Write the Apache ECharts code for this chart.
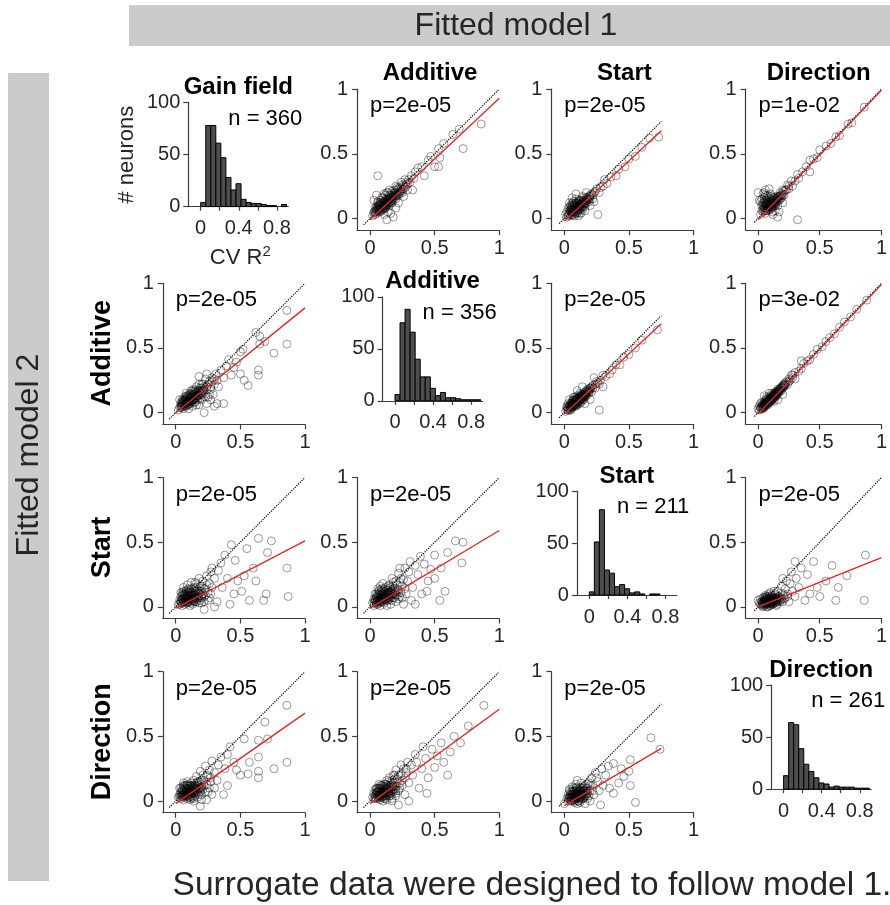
<!DOCTYPE html>
<html><head><meta charset="utf-8">
<script src="https://cdn.jsdelivr.net/npm/echarts@6/dist/echarts.min.js"></script>
<style>html,body{margin:0;padding:0;background:#fff}#c{width:890px;height:905px}</style>
</head><body><div id="c"></div>
<script>
// ---------------- DATA ----------------
const modelNames = ['Gain field', 'Additive', 'Start', 'Direction'];
const nNeurons = [360, 356, 211, 261];
const histBinWidth = 0.053;
const histBinCenters = [0.0265, 0.0795, 0.1325, 0.1855, 0.2385, 0.2915, 0.3445, 0.3975, 0.4505, 0.5035, 0.5565, 0.6095, 0.6625, 0.7155, 0.7685, 0.8215, 0.8745];
const histGain      = [4, 78, 78, 61, 47, 28, 16, 22, 7, 4, 3, 3, 2, 1, 1, 0, 2];
const histAdditive  = [6, 75, 88, 66, 40, 23, 23, 12, 5, 8, 3, 3, 2, 1, 1, 1, 1];
const histStart     = [3, 51, 82, 24, 21, 8, 10, 6, 2, 3, 1, 0, 1, 1, 0, 0, 0];
const histDirection = [13, 64, 62, 39, 24, 17, 11, 6, 5, 2, 3, 2, 2, 2, 1, 1, 1];
const histCounts = [histGain, histAdditive, histStart, histDirection];

const scatterTicks = [0, 0.5, 1];
const histXTicks = [0, 0.2, 0.4, 0.6, 0.8];
const histXLabels = [0, 0.4, 0.8];
const histYTicks = [0, 50, 100];

// p-values: row = fitted model 2, column = model 1 (surrogate data)
const pTexts = [
  [null, 'p=2e-05', 'p=2e-05', 'p=1e-02'],
  ['p=2e-05', null, 'p=2e-05', 'p=3e-02'],
  ['p=2e-05', 'p=2e-05', null, 'p=2e-05'],
  ['p=2e-05', 'p=2e-05', 'p=2e-05', null]
];
const fitIntercept = [
  [null, -0.01, -0.02, -0.01],
  [0.0, null, -0.01, -0.01],
  [-0.01, -0.01, null, 0.0],
  [-0.02, -0.02, -0.035, null]
];
const fitSlope = [
  [null, 0.94, 0.93, 1.0],
  [0.81, null, 0.93, 1.0],
  [0.52, 0.60, null, 0.38],
  [0.70, 0.73, 0.59, null]
];
const lineXMin = [-0.05, -0.05, -0.04, -0.03];
const lineXMax = [1, 1, 0.75, 1];

// scatter points [model1 R2, model2 R2] - spread points
const pts_r1c2 = [[0.06,0.33],[0.86,0.73],[0.72,0.54],[0.69,0.69],[0.64,0.65],[0.57,0.58],[0.53,0.54],[0.54,0.47],[0.5,0.4],[0.53,0.4],[0.45,0.45],[0.47,0.48],[0.42,0.33],[0.37,0.39],[0.4,0.4],[0.35,0.36],[0.33,0.22],[0.3,0.3],[0.32,0.33],[0.28,0.26],[0.27,0.3],[0.25,0.2],[0.25,0.26],[0.23,0.24],[0.22,0.18],[0.21,0.22],[0.2,0.25],[0.2,0.15],[0.19,0.2],[0.18,0.17],[0.17,0.21],[0.17,0.12],[0.16,0.16],[0.15,0.18],[0.15,0.1],[0.14,0.14],[0.13,0.2],[0.13,0.12],[0.13,-0.01],[0.12,0.08],[0.12,0.15],[0.11,0.11],[0.1,0.13],[0.1,0.07],[0.09,0.1],[0.09,0.16],[0.08,0.08],[0.08,0.12],[0.07,0.05],[0.07,0.1],[0.06,0.07],[0.06,0.13],[0.05,0.18],[0.05,0.06],[0.04,0.08],[0.04,0.03],[0.03,0.14],[0.03,0.05],[0.02,0.02],[0.18,0.01],[0.16,0.04],[0.14,0.05],[0.11,0.03],[0.22,0.12],[0.26,0.17],[0.29,0.22],[0.24,0.28],[0.2,0.08],[0.15,0.22],[0.11,0.19]];
const pts_r1c3 = [[0.73,0.63],[0.66,0.62],[0.6,0.55],[0.55,0.48],[0.5,0.46],[0.47,0.4],[0.42,0.38],[0.4,0.33],[0.36,0.32],[0.33,0.27],[0.31,0.3],[0.28,0.24],[0.27,0.2],[0.25,0.23],[0.26,0.03],[0.23,0.2],[0.22,0.15],[0.2,0.18],[0.19,0.13],[0.18,0.16],[0.17,0.2],[0.16,0.12],[0.15,0.14],[0.14,0.09],[0.14,0.17],[0.13,0.12],[0.12,0.07],[0.12,0.14],[0.11,0.1],[0.1,0.05],[0.1,0.12],[0.09,0.08],[0.09,0.15],[0.08,0.1],[0.08,0.04],[0.07,0.07],[0.07,0.13],[0.06,0.05],[0.06,0.1],[0.05,0.08],[0.05,0.02],[0.04,0.06],[0.04,0.12],[0.03,0.03],[0.03,0.08],[0.02,0.01],[0.02,0.05],[0.01,0.03],[0.11,0.02],[0.13,0.04],[0.16,0.06],[0.06,0.16],[0.09,0.19],[0.2,0.1],[0.23,0.13],[0.3,0.25]];
const pts_r1c4 = [[0.86,0.86],[0.76,0.74],[0.73,0.73],[0.66,0.64],[0.63,0.63],[0.59,0.58],[0.55,0.56],[0.5,0.53],[0.48,0.47],[0.45,0.46],[0.42,0.45],[0.42,0.36],[0.39,0.4],[0.36,0.36],[0.33,0.31],[0.32,0.34],[0.32,-0.01],[0.3,0.29],[0.28,0.25],[0.27,0.29],[0.25,0.23],[0.24,0.26],[0.22,0.22],[0.21,0.18],[0.2,0.22],[0.19,0.16],[0.18,0.2],[0.17,0.05],[0.16,0.01],[0.17,0.14],[0.16,0.17],[0.15,0.12],[0.14,0.15],[0.13,0.1],[0.13,0.13],[0.12,0.16],[0.11,0.08],[0.11,0.12],[0.1,0.1],[0.1,0.15],[0.09,0.23],[0.09,0.07],[0.08,0.11],[0.08,0.18],[0.07,0.06],[0.07,0.1],[0.06,0.13],[0.06,0.04],[0.05,0.08],[0.05,0.16],[0.04,0.19],[0.04,0.05],[0.03,0.1],[0.02,0.13],[0.01,0.14],[0.0,0.2],[0.02,0.03],[0.12,0.03],[0.14,0.06],[0.2,0.12]];
const pts_r2c1 = [[0.86,0.79],[0.86,0.53],[0.76,0.46],[0.69,0.55],[0.65,0.59],[0.62,0.62],[0.65,0.53],[0.64,0.33],[0.64,0.29],[0.56,0.21],[0.53,0.25],[0.5,0.3],[0.5,0.47],[0.52,0.49],[0.47,0.39],[0.41,0.41],[0.39,0.36],[0.37,0.27],[0.33,0.2],[0.32,0.07],[0.37,0.07],[0.22,0.0],[0.24,0.07],[0.29,0.14],[0.18,0.28],[0.24,0.3],[0.03,0.1],[0.35,0.33],[0.31,0.3],[0.3,0.22],[0.28,0.27],[0.27,0.18],[0.26,0.24],[0.25,0.12],[0.24,0.2],[0.23,0.26],[0.22,0.16],[0.21,0.22],[0.2,0.1],[0.2,0.19],[0.19,0.14],[0.18,0.22],[0.18,0.06],[0.17,0.17],[0.16,0.12],[0.16,0.2],[0.15,0.15],[0.15,0.08],[0.14,0.18],[0.14,0.11],[0.13,0.14],[0.13,0.05],[0.12,0.12],[0.12,0.17],[0.11,0.09],[0.11,0.14],[0.1,0.11],[0.1,0.06],[0.09,0.13],[0.09,0.08],[0.08,0.1],[0.08,0.15],[0.07,0.05],[0.07,0.12],[0.06,0.08],[0.06,0.03],[0.05,0.1],[0.05,0.06],[0.04,0.04],[0.04,0.08],[0.02,0.02],[0.27,0.1],[0.3,0.05],[0.43,0.29],[0.45,0.35]];
const pts_r2c3 = [[0.72,0.64],[0.6,0.56],[0.55,0.5],[0.5,0.45],[0.46,0.43],[0.43,0.37],[0.4,0.37],[0.37,0.33],[0.35,0.3],[0.32,0.28],[0.3,0.29],[0.28,0.25],[0.27,0.22],[0.25,0.24],[0.24,0.19],[0.22,0.21],[0.21,0.16],[0.2,0.19],[0.19,0.15],[0.18,0.18],[0.17,0.13],[0.16,0.16],[0.15,0.12],[0.15,0.15],[0.14,0.1],[0.13,0.14],[0.13,0.1],[0.12,0.12],[0.12,0.07],[0.11,0.11],[0.1,0.08],[0.1,0.13],[0.09,0.09],[0.09,0.05],[0.08,0.1],[0.08,0.06],[0.07,0.08],[0.07,0.12],[0.06,0.05],[0.06,0.09],[0.05,0.07],[0.05,0.03],[0.04,0.06],[0.04,0.1],[0.03,0.03],[0.03,0.07],[0.02,0.02],[0.02,0.05],[0.01,0.01],[0.16,0.07],[0.2,0.1],[0.23,0.27],[0.14,0.2],[0.1,0.17],[0.3,0.2],[0.27,0.02]];
const pts_r2c4 = [[0.88,0.87],[0.8,0.8],[0.75,0.74],[0.7,0.7],[0.66,0.66],[0.62,0.61],[0.58,0.58],[0.55,0.55],[0.52,0.51],[0.48,0.49],[0.45,0.45],[0.42,0.41],[0.4,0.4],[0.37,0.38],[0.35,0.34],[0.33,0.32],[0.3,0.31],[0.28,0.27],[0.27,0.29],[0.25,0.24],[0.24,0.22],[0.22,0.23],[0.21,0.2],[0.2,0.21],[0.19,0.17],[0.18,0.19],[0.17,0.16],[0.16,0.18],[0.15,0.14],[0.14,0.16],[0.14,0.12],[0.13,0.13],[0.12,0.11],[0.12,0.14],[0.11,0.1],[0.1,0.12],[0.1,0.08],[0.09,0.1],[0.08,0.07],[0.08,0.11],[0.07,0.08],[0.06,0.06],[0.06,0.1],[0.05,0.05],[0.04,0.07],[0.04,0.03],[0.03,0.05],[0.02,0.03],[0.02,0.07],[0.01,0.02],[0.01,0.05],[0.0,0.03],[0.05,0.13],[0.09,0.15],[0.16,0.1],[0.2,0.14],[0.3,0.26],[0.35,0.4]];
const pts_r3c1 = [[0.86,0.3],[0.87,0.08],[0.74,0.51],[0.64,0.53],[0.71,0.42],[0.7,0.1],[0.68,0.05],[0.57,0.05],[0.51,0.12],[0.53,0.24],[0.6,0.3],[0.55,0.45],[0.46,0.36],[0.38,0.4],[0.43,0.48],[0.33,0.28],[0.4,0.22],[0.36,0.15],[0.45,0.1],[0.32,0.04],[0.42,0.02],[0.3,0.22],[0.28,0.3],[0.27,0.1],[0.26,0.18],[0.25,0.05],[0.24,0.24],[0.23,0.14],[0.22,0.08],[0.21,0.2],[0.2,0.12],[0.2,0.03],[0.19,0.16],[0.18,0.07],[0.18,0.22],[0.17,0.11],[0.16,0.04],[0.16,0.15],[0.15,0.09],[0.15,0.19],[0.14,0.05],[0.14,0.12],[0.13,0.02],[0.13,0.08],[0.12,0.14],[0.12,0.05],[0.11,0.1],[0.11,0.01],[0.1,0.06],[0.1,0.13],[0.09,0.03],[0.09,0.09],[0.08,0.05],[0.08,0.12],[0.07,0.02],[0.07,0.07],[0.06,0.04],[0.06,0.1],[0.05,0.06],[0.05,0.01],[0.04,0.03],[0.04,0.08],[0.03,0.05],[0.02,0.02],[0.3,0.0],[0.35,0.34],[0.48,0.2],[0.62,0.2],[0.22,-0.02],[0.27,0.27]];
const pts_r3c2 = [[0.72,0.5],[0.66,0.51],[0.71,0.34],[0.58,0.12],[0.54,0.05],[0.47,0.29],[0.39,0.39],[0.6,0.42],[0.5,0.4],[0.55,0.3],[0.45,0.2],[0.42,0.33],[0.4,0.1],[0.37,0.25],[0.35,0.32],[0.33,0.15],[0.32,0.05],[0.3,0.27],[0.29,0.2],[0.28,0.1],[0.27,0.3],[0.26,0.02],[0.25,0.16],[0.24,0.22],[0.23,0.08],[0.22,0.26],[0.21,0.13],[0.2,0.2],[0.2,0.04],[0.19,0.1],[0.18,0.16],[0.18,0.07],[0.17,0.22],[0.16,0.12],[0.16,0.02],[0.15,0.08],[0.15,0.17],[0.14,0.05],[0.14,0.13],[0.13,0.1],[0.13,0.01],[0.12,0.06],[0.12,0.15],[0.11,0.03],[0.11,0.1],[0.1,0.07],[0.1,0.13],[0.09,0.04],[0.09,0.09],[0.08,0.01],[0.08,0.06],[0.07,0.1],[0.07,0.03],[0.06,0.05],[0.05,0.08],[0.05,0.02],[0.04,0.04],[0.03,0.06],[0.03,0.01],[0.02,0.03],[0.35,0.02],[0.44,0.12],[0.5,0.22],[0.31,0.35],[0.23,0.3]];
const pts_r3c4 = [[0.87,0.4],[0.86,0.05],[0.72,0.24],[0.63,0.05],[0.5,0.08],[0.6,0.32],[0.55,0.2],[0.45,0.35],[0.48,0.15],[0.42,0.1],[0.4,0.25],[0.38,0.05],[0.35,0.3],[0.33,0.15],[0.31,0.22],[0.3,0.08],[0.28,0.12],[0.27,0.27],[0.26,0.18],[0.25,0.04],[0.24,0.1],[0.23,0.2],[0.22,0.14],[0.21,0.06],[0.2,0.1],[0.19,0.16],[0.18,0.04],[0.17,0.08],[0.16,0.12],[0.15,0.02],[0.15,0.06],[0.14,0.1],[0.13,0.04],[0.13,0.07],[0.12,0.02],[0.12,0.05],[0.11,0.08],[0.11,0.03],[0.1,0.05],[0.1,0.01],[0.09,0.03],[0.09,0.07],[0.08,0.04],[0.08,0.0],[0.07,0.06],[0.07,0.02],[0.06,0.04],[0.06,0.08],[0.05,0.02],[0.05,0.05],[0.04,0.03],[0.04,0.07],[0.03,0.01],[0.03,0.04],[0.02,0.02],[0.01,0.03],[0.0,0.05],[0.3,0.35],[0.2,0.22],[0.65,0.15]];
const pts_r4c1 = [[0.86,0.74],[0.86,0.3],[0.76,0.25],[0.69,0.61],[0.64,0.47],[0.71,0.48],[0.64,0.34],[0.64,0.23],[0.64,0.18],[0.56,0.21],[0.53,0.48],[0.5,0.2],[0.57,0.3],[0.47,0.24],[0.42,0.42],[0.4,0.36],[0.37,0.05],[0.32,0.16],[0.19,-0.04],[0.24,0.01],[0.45,0.3],[0.38,0.25],[0.35,0.34],[0.33,0.28],[0.3,0.1],[0.3,0.22],[0.28,0.31],[0.27,0.15],[0.26,0.24],[0.25,0.07],[0.24,0.19],[0.23,0.27],[0.22,0.12],[0.21,0.2],[0.2,0.05],[0.2,0.16],[0.19,0.23],[0.18,0.1],[0.17,0.15],[0.17,0.03],[0.16,0.19],[0.15,0.08],[0.15,0.12],[0.14,0.02],[0.14,0.16],[0.13,0.06],[0.13,0.11],[0.12,0.09],[0.12,0.14],[0.11,0.03],[0.11,0.07],[0.1,0.1],[0.1,0.05],[0.09,0.13],[0.09,0.02],[0.08,0.07],[0.08,0.1],[0.07,0.04],[0.07,0.12],[0.06,0.06],[0.06,0.01],[0.05,0.09],[0.05,0.04],[0.04,0.07],[0.04,0.02],[0.03,0.1],[0.03,0.05],[0.02,0.03],[0.28,0.05],[0.4,0.12]];
const pts_r4c2 = [[0.88,0.74],[0.76,0.58],[0.7,0.45],[0.65,0.5],[0.62,0.38],[0.6,0.2],[0.57,0.3],[0.55,0.45],[0.52,0.35],[0.5,0.26],[0.48,0.4],[0.45,0.18],[0.43,0.33],[0.41,0.42],[0.4,0.25],[0.38,0.1],[0.36,0.3],[0.35,0.36],[0.33,0.2],[0.32,0.28],[0.3,0.14],[0.29,0.3],[0.28,0.22],[0.27,0.05],[0.26,0.25],[0.25,0.16],[0.24,0.28],[0.23,0.1],[0.22,0.2],[0.21,0.14],[0.2,0.24],[0.2,0.06],[0.19,0.17],[0.18,0.11],[0.18,0.2],[0.17,0.02],[0.16,0.14],[0.16,0.08],[0.15,0.18],[0.15,0.04],[0.14,0.12],[0.13,0.07],[0.13,0.16],[0.12,0.1],[0.12,0.02],[0.11,0.13],[0.11,0.06],[0.1,0.09],[0.1,0.03],[0.09,0.12],[0.09,0.06],[0.08,0.08],[0.08,0.01],[0.07,0.1],[0.07,0.04],[0.06,0.07],[0.05,0.05],[0.05,0.1],[0.04,0.02],[0.03,0.06],[0.02,0.03],[0.22,-0.03],[0.3,0.0],[0.44,0.06]];
const pts_r4c3 = [[0.67,0.49],[0.74,0.4],[0.51,0.32],[0.5,0.23],[0.51,0.12],[0.55,-0.01],[0.44,0.25],[0.38,0.29],[0.34,0.27],[0.42,0.14],[0.38,0.06],[0.28,-0.03],[0.25,0.18],[0.1,0.16],[0.04,0.09],[0.32,0.2],[0.3,0.12],[0.29,0.25],[0.27,0.08],[0.26,0.15],[0.24,0.22],[0.23,0.05],[0.22,0.12],[0.21,0.18],[0.2,0.08],[0.19,0.14],[0.18,0.02],[0.18,0.1],[0.17,0.06],[0.16,0.12],[0.15,0.03],[0.15,0.08],[0.14,0.05],[0.14,0.1],[0.13,0.01],[0.13,0.06],[0.12,0.03],[0.12,0.08],[0.11,0.05],[0.11,0.0],[0.1,0.02],[0.1,0.07],[0.09,0.04],[0.09,0.1],[0.08,0.01],[0.08,0.06],[0.07,0.03],[0.07,0.08],[0.06,0.05],[0.06,0.0],[0.05,0.03],[0.05,0.07],[0.04,0.02],[0.03,0.05],[0.03,0.0],[0.02,0.02],[0.0,-0.02],[0.16,-0.02],[0.35,0.1],[0.46,0.19]];

// dense cores of each cloud
const core_r1c2 = [[0.03,0.04],[0.04,0.05],[0.05,0.04],[0.05,0.09],[0.06,0.06],[0.06,0.1],[0.07,0.07],[0.07,0.09],[0.08,0.06],[0.08,0.1],[0.09,0.08],[0.09,0.12],[0.1,0.09],[0.1,0.1],[0.11,0.08],[0.11,0.13],[0.12,0.1],[0.12,0.12],[0.13,0.11],[0.13,0.15],[0.14,0.12],[0.14,0.16],[0.15,0.13],[0.15,0.15],[0.16,0.14],[0.16,0.18],[0.17,0.15],[0.17,0.17],[0.18,0.14],[0.18,0.19],[0.19,0.17],[0.19,0.22],[0.2,0.18],[0.21,0.19],[0.21,0.24],[0.22,0.2],[0.23,0.21],[0.24,0.23],[0.25,0.22],[0.26,0.25],[0.27,0.24],[0.28,0.28],[0.29,0.27],[0.31,0.28],[0.34,0.31],[0.06,0.12],[0.08,0.14],[0.1,0.16],[0.12,0.18],[0.14,0.2]];
const core_r1c3 = [[0.03,0.02],[0.04,0.04],[0.05,0.05],[0.05,0.1],[0.06,0.07],[0.06,0.03],[0.07,0.05],[0.07,0.09],[0.08,0.07],[0.08,0.12],[0.09,0.06],[0.09,0.1],[0.1,0.08],[0.1,0.1],[0.11,0.07],[0.11,0.12],[0.12,0.09],[0.12,0.11],[0.13,0.08],[0.13,0.14],[0.14,0.11],[0.14,0.13],[0.15,0.1],[0.15,0.16],[0.16,0.14],[0.17,0.12],[0.17,0.16],[0.18,0.14],[0.19,0.17],[0.2,0.15],[0.21,0.19],[0.22,0.18],[0.24,0.21],[0.04,0.09],[0.06,0.12],[0.08,0.02],[0.1,0.04],[0.12,0.04],[0.14,0.07],[0.16,0.09]];
const core_r1c4 = [[0.03,0.06],[0.04,0.1],[0.05,0.06],[0.05,0.12],[0.06,0.08],[0.06,0.11],[0.07,0.08],[0.07,0.13],[0.08,0.06],[0.08,0.09],[0.09,0.1],[0.09,0.13],[0.1,0.07],[0.1,0.11],[0.11,0.1],[0.11,0.14],[0.12,0.09],[0.12,0.12],[0.13,0.11],[0.13,0.16],[0.14,0.12],[0.14,0.1],[0.15,0.14],[0.15,0.17],[0.16,0.14],[0.17,0.16],[0.18,0.17],[0.19,0.19],[0.2,0.18],[0.21,0.21],[0.23,0.22],[0.25,0.25],[0.03,0.15],[0.05,0.2],[0.07,0.17],[0.06,0.22],[0.08,0.14],[0.1,0.19],[0.12,0.05],[0.16,0.1]];
const core_r2c1 = [[0.03,0.04],[0.04,0.06],[0.05,0.04],[0.05,0.08],[0.06,0.05],[0.06,0.1],[0.07,0.07],[0.07,0.09],[0.08,0.05],[0.08,0.08],[0.09,0.06],[0.09,0.1],[0.1,0.08],[0.1,0.13],[0.11,0.07],[0.11,0.11],[0.12,0.09],[0.12,0.14],[0.13,0.1],[0.13,0.12],[0.14,0.08],[0.14,0.14],[0.15,0.11],[0.15,0.17],[0.16,0.13],[0.16,0.16],[0.17,0.1],[0.17,0.14],[0.18,0.13],[0.18,0.17],[0.19,0.11],[0.19,0.19],[0.2,0.15],[0.21,0.17],[0.22,0.2],[0.23,0.12],[0.24,0.18],[0.25,0.22],[0.27,0.2],[0.28,0.24],[0.3,0.26],[0.32,0.25],[0.08,0.13],[0.1,0.03],[0.13,0.17],[0.16,0.06],[0.2,0.22],[0.26,0.14]];
const core_r2c3 = [[0.03,0.02],[0.04,0.04],[0.05,0.05],[0.05,0.02],[0.06,0.06],[0.06,0.04],[0.07,0.06],[0.07,0.1],[0.08,0.08],[0.08,0.05],[0.09,0.07],[0.09,0.11],[0.1,0.09],[0.1,0.06],[0.11,0.09],[0.11,0.12],[0.12,0.1],[0.12,0.09],[0.13,0.12],[0.13,0.08],[0.14,0.13],[0.14,0.11],[0.15,0.14],[0.15,0.1],[0.16,0.13],[0.17,0.15],[0.17,0.17],[0.18,0.16],[0.19,0.17],[0.2,0.18],[0.21,0.2],[0.22,0.19],[0.24,0.22],[0.26,0.23],[0.06,0.08],[0.08,0.12],[0.1,0.11],[0.12,0.15],[0.04,0.02],[0.02,0.04]];
const core_r2c4 = [[0.02,0.04],[0.03,0.03],[0.04,0.05],[0.05,0.06],[0.05,0.04],[0.06,0.08],[0.06,0.05],[0.07,0.07],[0.07,0.09],[0.08,0.08],[0.08,0.06],[0.09,0.09],[0.09,0.11],[0.1,0.1],[0.1,0.09],[0.11,0.12],[0.11,0.1],[0.12,0.12],[0.12,0.1],[0.13,0.14],[0.13,0.12],[0.14,0.13],[0.14,0.15],[0.15,0.15],[0.15,0.13],[0.16,0.16],[0.16,0.15],[0.17,0.18],[0.17,0.17],[0.18,0.17],[0.19,0.2],[0.2,0.19],[0.21,0.22],[0.22,0.21],[0.23,0.24],[0.25,0.26],[0.26,0.25],[0.28,0.29],[0.03,0.08],[0.07,0.12],[0.11,0.15],[0.13,0.09]];
const core_r3c1 = [[0.03,0.02],[0.04,0.05],[0.05,0.03],[0.05,0.09],[0.06,0.06],[0.06,0.12],[0.07,0.04],[0.07,0.09],[0.08,0.03],[0.08,0.08],[0.09,0.06],[0.09,0.11],[0.1,0.04],[0.1,0.09],[0.11,0.06],[0.11,0.12],[0.12,0.03],[0.12,0.09],[0.13,0.05],[0.13,0.11],[0.14,0.07],[0.14,0.15],[0.15,0.04],[0.15,0.12],[0.16,0.07],[0.16,0.18],[0.17,0.06],[0.17,0.13],[0.18,0.1],[0.18,0.03],[0.19,0.08],[0.19,0.12],[0.2,0.07],[0.2,0.16],[0.21,0.1],[0.22,0.04],[0.22,0.14],[0.23,0.09],[0.24,0.17],[0.25,0.11],[0.26,0.07],[0.28,0.15],[0.06,0.15],[0.09,0.17],[0.12,0.19],[0.04,0.11]];
const core_r3c2 = [[0.03,0.03],[0.04,0.06],[0.05,0.04],[0.05,0.1],[0.06,0.07],[0.06,0.02],[0.07,0.05],[0.07,0.12],[0.08,0.04],[0.08,0.09],[0.09,0.07],[0.09,0.12],[0.1,0.04],[0.1,0.1],[0.11,0.06],[0.11,0.14],[0.12,0.08],[0.12,0.11],[0.13,0.05],[0.13,0.13],[0.14,0.09],[0.14,0.16],[0.15,0.06],[0.15,0.11],[0.16,0.09],[0.16,0.15],[0.17,0.05],[0.17,0.12],[0.18,0.1],[0.18,0.19],[0.19,0.07],[0.19,0.14],[0.2,0.12],[0.21,0.09],[0.21,0.17],[0.22,0.06],[0.22,0.13],[0.23,0.19],[0.24,0.11],[0.25,0.07],[0.26,0.21],[0.27,0.14],[0.06,0.14],[0.08,0.16],[0.1,0.18],[0.04,0.1]];
const core_r3c4 = [[0.03,0.02],[0.04,0.04],[0.05,0.03],[0.05,0.07],[0.06,0.05],[0.06,0.02],[0.07,0.04],[0.07,0.08],[0.08,0.03],[0.08,0.06],[0.09,0.05],[0.09,0.01],[0.1,0.03],[0.1,0.07],[0.11,0.05],[0.11,0.02],[0.12,0.04],[0.12,0.07],[0.13,0.03],[0.13,0.05],[0.14,0.03],[0.14,0.07],[0.15,0.05],[0.16,0.04],[0.16,0.08],[0.17,0.05],[0.18,0.07],[0.19,0.06],[0.2,0.04],[0.21,0.09],[0.22,0.07],[0.24,0.08],[0.06,0.09],[0.09,0.1],[0.04,0.0],[0.07,0.0],[0.1,0.11],[0.13,0.12],[0.02,0.06],[0.15,0.01]];
const core_r4c1 = [[0.03,0.03],[0.04,0.06],[0.05,0.03],[0.05,0.08],[0.06,0.05],[0.06,0.11],[0.07,0.03],[0.07,0.08],[0.08,0.04],[0.08,0.12],[0.09,0.06],[0.09,0.09],[0.1,0.03],[0.1,0.12],[0.11,0.05],[0.11,0.1],[0.12,0.06],[0.12,0.12],[0.13,0.03],[0.13,0.09],[0.14,0.06],[0.14,0.12],[0.15,0.04],[0.15,0.1],[0.16,0.07],[0.16,0.14],[0.17,0.09],[0.17,0.12],[0.18,0.05],[0.18,0.15],[0.19,0.1],[0.19,0.07],[0.2,0.13],[0.21,0.09],[0.22,0.16],[0.23,0.07],[0.24,0.13],[0.25,0.2],[0.26,0.1],[0.27,0.18],[0.04,0.1],[0.06,0.14],[0.09,0.15],[0.11,0.01],[0.14,0.0],[0.2,0.01]];
const core_r4c2 = [[0.03,0.02],[0.04,0.05],[0.05,0.02],[0.05,0.07],[0.06,0.04],[0.06,0.1],[0.07,0.02],[0.07,0.07],[0.08,0.04],[0.08,0.1],[0.09,0.03],[0.09,0.08],[0.1,0.05],[0.1,0.12],[0.11,0.04],[0.11,0.09],[0.12,0.06],[0.12,0.13],[0.13,0.04],[0.13,0.1],[0.14,0.07],[0.14,0.15],[0.15,0.06],[0.15,0.11],[0.16,0.04],[0.16,0.12],[0.17,0.08],[0.17,0.16],[0.18,0.07],[0.18,0.14],[0.19,0.09],[0.19,0.2],[0.2,0.11],[0.21,0.17],[0.22,0.08],[0.23,0.14],[0.24,0.21],[0.25,0.12],[0.27,0.18],[0.28,0.25],[0.04,0.09],[0.07,0.13],[0.1,0.0],[0.13,0.01],[0.17,0.0],[0.2,0.04]];
const core_r4c3 = [[0.03,0.02],[0.04,0.04],[0.05,0.01],[0.05,0.05],[0.06,0.03],[0.06,0.07],[0.07,0.01],[0.07,0.05],[0.08,0.03],[0.08,0.08],[0.09,0.02],[0.09,0.06],[0.1,0.04],[0.1,0.09],[0.11,0.02],[0.11,0.07],[0.12,0.05],[0.12,0.1],[0.13,0.03],[0.13,0.08],[0.14,0.02],[0.14,0.07],[0.15,0.05],[0.15,0.11],[0.16,0.04],[0.16,0.08],[0.17,0.1],[0.18,0.06],[0.19,0.04],[0.2,0.12],[0.22,0.08],[0.04,0.08],[0.06,0.11],[0.08,-0.01],[0.1,-0.02],[0.12,-0.01],[0.09,0.13],[0.13,0.14],[0.18,0.13],[0.2,0.0]];

// innermost (darkest) part of each cloud
const inner_r1c2 = [[0.04,0.06],[0.05,0.07],[0.06,0.08],[0.07,0.06],[0.07,0.11],[0.08,0.09],[0.09,0.07],[0.09,0.11],[0.1,0.12],[0.11,0.1],[0.12,0.13],[0.13,0.1],[0.13,0.13],[0.14,0.15],[0.15,0.12],[0.16,0.16],[0.17,0.14],[0.18,0.18],[0.19,0.16],[0.2,0.2],[0.21,0.18],[0.22,0.23],[0.23,0.19],[0.24,0.21],[0.26,0.23],[0.08,0.05],[0.1,0.07],[0.12,0.09],[0.14,0.11],[0.16,0.12]];
const inner_r1c3 = [[0.04,0.03],[0.05,0.06],[0.06,0.05],[0.06,0.09],[0.07,0.07],[0.08,0.05],[0.08,0.09],[0.09,0.08],[0.09,0.12],[0.1,0.07],[0.1,0.11],[0.11,0.09],[0.11,0.06],[0.12,0.1],[0.12,0.13],[0.13,0.09],[0.13,0.11],[0.14,0.12],[0.15,0.11],[0.15,0.13],[0.16,0.11],[0.17,0.14],[0.18,0.15],[0.19,0.15],[0.2,0.17],[0.07,0.03],[0.09,0.04],[0.05,0.07],[0.07,0.11],[0.11,0.14]];
const inner_r1c4 = [[0.04,0.07],[0.05,0.09],[0.06,0.06],[0.06,0.1],[0.07,0.09],[0.07,0.11],[0.08,0.08],[0.08,0.12],[0.09,0.09],[0.09,0.11],[0.1,0.09],[0.1,0.13],[0.11,0.11],[0.11,0.09],[0.12,0.11],[0.12,0.14],[0.13,0.12],[0.13,0.14],[0.14,0.13],[0.15,0.15],[0.16,0.16],[0.17,0.17],[0.18,0.15],[0.19,0.18],[0.05,0.14],[0.07,0.15],[0.09,0.16],[0.11,0.17],[0.04,0.12],[0.06,0.18]];
const inner_r2c1 = [[0.04,0.05],[0.05,0.07],[0.06,0.07],[0.07,0.06],[0.07,0.1],[0.08,0.07],[0.08,0.11],[0.09,0.09],[0.1,0.1],[0.1,0.07],[0.11,0.12],[0.11,0.09],[0.12,0.11],[0.12,0.08],[0.13,0.13],[0.13,0.09],[0.14,0.1],[0.14,0.16],[0.15,0.13],[0.16,0.11],[0.16,0.15],[0.17,0.13],[0.18,0.16],[0.19,0.15],[0.2,0.17],[0.21,0.14],[0.22,0.18],[0.09,0.12],[0.11,0.15],[0.06,0.09]];
const inner_r2c3 = [[0.04,0.05],[0.05,0.04],[0.06,0.07],[0.07,0.05],[0.07,0.08],[0.08,0.07],[0.08,0.09],[0.09,0.08],[0.09,0.1],[0.1,0.1],[0.1,0.07],[0.11,0.1],[0.11,0.08],[0.12,0.11],[0.13,0.11],[0.13,0.13],[0.14,0.12],[0.15,0.13],[0.16,0.14],[0.16,0.12],[0.17,0.14],[0.18,0.17],[0.19,0.16],[0.06,0.04],[0.05,0.06],[0.09,0.06],[0.12,0.13],[0.14,0.14],[0.2,0.19],[0.03,0.04]];
const inner_r2c4 = [[0.03,0.04],[0.04,0.04],[0.05,0.07],[0.06,0.06],[0.06,0.07],[0.07,0.08],[0.08,0.09],[0.08,0.07],[0.09,0.08],[0.09,0.1],[0.1,0.11],[0.11,0.11],[0.12,0.13],[0.12,0.11],[0.13,0.13],[0.14,0.14],[0.15,0.16],[0.15,0.14],[0.16,0.17],[0.17,0.16],[0.18,0.18],[0.19,0.19],[0.2,0.2],[0.21,0.21],[0.22,0.22],[0.04,0.06],[0.07,0.1],[0.1,0.13],[0.13,0.15],[0.05,0.08]];
const inner_r3c1 = [[0.04,0.04],[0.05,0.06],[0.06,0.04],[0.06,0.08],[0.07,0.06],[0.07,0.1],[0.08,0.06],[0.08,0.1],[0.09,0.04],[0.09,0.08],[0.1,0.07],[0.1,0.11],[0.11,0.04],[0.11,0.08],[0.12,0.07],[0.12,0.11],[0.13,0.06],[0.13,0.09],[0.14,0.04],[0.14,0.09],[0.15,0.07],[0.16,0.1],[0.17,0.08],[0.18,0.12],[0.19,0.05],[0.2,0.09],[0.08,0.13],[0.1,0.14],[0.05,0.11],[0.15,0.14]];
const inner_r3c2 = [[0.04,0.05],[0.05,0.07],[0.06,0.05],[0.06,0.09],[0.07,0.07],[0.07,0.04],[0.08,0.07],[0.08,0.11],[0.09,0.05],[0.09,0.1],[0.1,0.08],[0.1,0.06],[0.11,0.08],[0.11,0.12],[0.12,0.05],[0.12,0.09],[0.13,0.07],[0.13,0.11],[0.14,0.07],[0.14,0.11],[0.15,0.09],[0.16,0.07],[0.16,0.11],[0.17,0.1],[0.18,0.13],[0.19,0.11],[0.2,0.09],[0.07,0.13],[0.09,0.14],[0.05,0.03]];
const inner_r3c4 = [[0.04,0.02],[0.05,0.04],[0.06,0.03],[0.06,0.06],[0.07,0.03],[0.07,0.05],[0.08,0.05],[0.08,0.02],[0.09,0.04],[0.09,0.06],[0.1,0.04],[0.1,0.02],[0.11,0.04],[0.11,0.06],[0.12,0.03],[0.12,0.06],[0.13,0.04],[0.13,0.06],[0.14,0.05],[0.15,0.04],[0.15,0.07],[0.16,0.06],[0.17,0.07],[0.18,0.05],[0.05,0.01],[0.08,0.08],[0.11,0.09],[0.14,0.09],[0.07,0.07],[0.03,0.04]];
const inner_r4c1 = [[0.04,0.04],[0.05,0.05],[0.06,0.04],[0.06,0.08],[0.07,0.05],[0.07,0.1],[0.08,0.06],[0.08,0.09],[0.09,0.04],[0.09,0.07],[0.1,0.07],[0.1,0.09],[0.11,0.06],[0.11,0.12],[0.12,0.04],[0.12,0.08],[0.13,0.07],[0.13,0.12],[0.14,0.08],[0.14,0.1],[0.15,0.06],[0.16,0.09],[0.16,0.11],[0.17,0.07],[0.18,0.12],[0.19,0.09],[0.2,0.11],[0.06,0.12],[0.09,0.12],[0.12,0.02]];
const inner_r4c2 = [[0.04,0.03],[0.05,0.06],[0.06,0.03],[0.06,0.07],[0.07,0.05],[0.07,0.09],[0.08,0.06],[0.08,0.03],[0.09,0.05],[0.09,0.1],[0.1,0.07],[0.1,0.04],[0.11,0.07],[0.11,0.11],[0.12,0.04],[0.12,0.08],[0.13,0.06],[0.13,0.12],[0.14,0.09],[0.14,0.05],[0.15,0.08],[0.16,0.1],[0.16,0.06],[0.17,0.11],[0.18,0.09],[0.19,0.12],[0.2,0.08],[0.05,0.09],[0.08,0.12],[0.11,0.02]];
const inner_r4c3 = [[0.04,0.03],[0.05,0.03],[0.06,0.02],[0.06,0.05],[0.07,0.03],[0.07,0.07],[0.08,0.02],[0.08,0.05],[0.09,0.03],[0.09,0.08],[0.1,0.03],[0.1,0.06],[0.11,0.04],[0.11,0.08],[0.12,0.02],[0.12,0.06],[0.13,0.05],[0.13,0.1],[0.14,0.04],[0.14,0.08],[0.15,0.02],[0.15,0.07],[0.16,0.06],[0.17,0.04],[0.17,0.08],[0.05,0.0],[0.08,0.0],[0.11,0.0],[0.07,0.1],[0.1,0.11]];

const scatterPts = [
  [null, pts_r1c2.concat(core_r1c2, inner_r1c2), pts_r1c3.concat(core_r1c3, inner_r1c3), pts_r1c4.concat(core_r1c4, inner_r1c4)],
  [pts_r2c1.concat(core_r2c1, inner_r2c1), null, pts_r2c3.concat(core_r2c3, inner_r2c3), pts_r2c4.concat(core_r2c4, inner_r2c4)],
  [pts_r3c1.concat(core_r3c1, inner_r3c1), pts_r3c2.concat(core_r3c2, inner_r3c2), null, pts_r3c4.concat(core_r3c4, inner_r3c4)],
  [pts_r4c1.concat(core_r4c1, inner_r4c1), pts_r4c2.concat(core_r4c2, inner_r4c2), pts_r4c3.concat(core_r4c3, inner_r4c3), null]
];

// ---------------- LAYOUT / STYLE ----------------
const FONT = '"Liberation Sans", Arial, Helvetica, sans-serif';
const TXT = '#262626';
const AX = '#3c3c3c';
const colLeft = [162.8, 357.1, 551.4, 745.7];
const rowTop = [89.1, 283.3, 477.5, 671.7];
const scW = 142.2, scH = 141;
const hOffX = 25.5, hOffY = 13.5, hW = 100, hH = 104;

const grids = [], xAxes = [], yAxes = [], series = [], texts = [];
const axisLine = {show: true, onZero: false, lineStyle: {color: AX, width: 1.2}};
const tickStyle = {color: AX, width: 1.2};
const lblStyle = {color: TXT, fontSize: 20, fontFamily: FONT};

for (let r = 0; r < 4; r++) {
  for (let c = 0; c < 4; c++) {
    const gi = grids.length;
    if (r === c) {
      const L = colLeft[c] + hOffX, T = rowTop[r] + hOffY;
      grids.push({left: L, top: T, width: hW, height: hH, containLabel: false});
      xAxes.push({gridIndex: gi, type: 'value', min: -0.13, max: 0.92,
        axisLine, splitLine: {show: false},
        axisTick: {show: true, customValues: histXTicks, length: 4, lineStyle: tickStyle},
        axisLabel: Object.assign({customValues: histXLabels, margin: 12, formatter: v => String(v)}, lblStyle)});
      yAxes.push({gridIndex: gi, type: 'value', min: 0, max: 100,
        axisLine, splitLine: {show: false},
        axisTick: {show: true, customValues: histYTicks, length: 5, lineStyle: tickStyle},
        axisLabel: Object.assign({customValues: histYTicks, margin: 8, formatter: v => String(v)}, lblStyle)});
      const counts = histCounts[r];
      series.push({type: 'custom', xAxisIndex: gi, yAxisIndex: gi, silent: true,
        data: histBinCenters.map((x, i) => [x, counts[i]]),
        encode: {x: 0, y: 1},
        renderItem: (params, api) => {
          const x = api.value(0), y = api.value(1);
          if (!y) return null;
          const p0 = api.coord([x - histBinWidth / 2, y]);
          const p1 = api.coord([x + histBinWidth / 2, 0]);
          return {type: 'rect', shape: {x: p0[0], y: p0[1], width: p1[0] - p0[0], height: p1[1] - p0[1]},
            style: {fill: '#4d4d4d', stroke: '#000', lineWidth: 1}};
        }});
      texts.push({type: 'text', x: L + hW / 2, y: T - 15, style: {text: modelNames[r], fill: '#000', font: 'bold 24px ' + FONT, align: 'center', verticalAlign: 'middle'}});
      texts.push({type: 'text', x: L + 40, y: T + 16, style: {text: 'n = ' + nNeurons[r], fill: '#000', font: '22px ' + FONT, align: 'left', verticalAlign: 'middle'}});
    } else {
      const L = colLeft[c], T = rowTop[r];
      grids.push({left: L, top: T, width: scW, height: scH, containLabel: false});
      xAxes.push({gridIndex: gi, type: 'value', min: -0.1, max: 1,
        axisLine, splitLine: {show: false},
        axisTick: {show: true, customValues: scatterTicks, length: 5, lineStyle: tickStyle},
        axisLabel: Object.assign({customValues: scatterTicks, margin: 8, formatter: v => String(v)}, lblStyle)});
      yAxes.push({gridIndex: gi, type: 'value', min: -0.09, max: 1,
        axisLine, splitLine: {show: false},
        axisTick: {show: true, customValues: scatterTicks, length: 5, lineStyle: tickStyle},
        axisLabel: Object.assign({customValues: scatterTicks, margin: 9, formatter: v => String(v)}, lblStyle)});
      series.push({type: 'scatter', xAxisIndex: gi, yAxisIndex: gi, silent: true,
        data: scatterPts[r][c], symbol: 'circle', symbolSize: 8, large: false,
        itemStyle: {color: 'rgba(0,0,0,0)', borderColor: 'rgba(0,0,0,0.5)', borderWidth: 1}});
      const x0 = lineXMin[c], x1 = lineXMax[c];
      series.push({type: 'line', xAxisIndex: gi, yAxisIndex: gi, silent: true, symbol: 'none',
        data: [[x0, x0], [x1, x1]], lineStyle: {color: '#000', width: 1.2, type: 'dotted'}, z: 3});
      const a = fitIntercept[r][c], b = fitSlope[r][c];
      series.push({type: 'line', xAxisIndex: gi, yAxisIndex: gi, silent: true, symbol: 'none',
        data: [[0, a], [x1, a + b * x1]], lineStyle: {color: '#e8231f', width: 1.3}, z: 4});
      texts.push({type: 'text', x: L + 12.9, y: T + 17, style: {text: pTexts[r][c], fill: '#000', font: '22px ' + FONT, align: 'left', verticalAlign: 'middle'}});
      if (r === 0) {
        texts.push({type: 'text', x: L + 73, y: T - 16, style: {text: modelNames[c], fill: '#000', font: 'bold 24px ' + FONT, align: 'center', verticalAlign: 'middle'}});
      }
    }
  }
}

// row labels
for (let r = 1; r < 4; r++) {
  texts.push({type: 'text', x: 103, y: rowTop[r] + 70, rotation: Math.PI / 2,
    style: {text: modelNames[r], fill: '#000', font: 'bold 27px ' + FONT, align: 'center', verticalAlign: 'middle'}});
}
// axis titles for first histogram
texts.push({type: 'text', x: 127, y: rowTop[0] + hOffY + hH / 2, rotation: Math.PI / 2,
  style: {text: '# neurons', fill: TXT, font: '22px ' + FONT, align: 'center', verticalAlign: 'middle'}});
texts.push({type: 'text', x: colLeft[0] + hOffX + 52, y: 258,
  style: {text: 'CV R{s|2}', fill: TXT, font: '22px ' + FONT, align: 'center', verticalAlign: 'middle',
    rich: {s: {fontSize: 15, fontFamily: FONT, fill: TXT, padding: [0, 0, 12, 0]}}}});

const graphics = [
  {type: 'rect', shape: {x: 129, y: 5, width: 761, height: 41}, style: {fill: '#cbcbcd'}, z: -1},
  {type: 'text', x: 516, y: 26, style: {text: 'Fitted model 1', fill: TXT, font: '32px ' + FONT, align: 'center', verticalAlign: 'middle'}},
  {type: 'rect', shape: {x: 8, y: 73, width: 41, height: 808}, style: {fill: '#cbcbcd'}, z: -1},
  {type: 'text', x: 29, y: 455, rotation: Math.PI / 2, style: {text: 'Fitted model 2', fill: TXT, font: '32px ' + FONT, align: 'center', verticalAlign: 'middle'}},
  {type: 'text', x: 532, y: 886, style: {text: 'Surrogate data were designed to follow model 1.', fill: TXT, font: '33.5px ' + FONT, align: 'center', verticalAlign: 'middle'}}
].concat(texts);

const chart = echarts.init(document.getElementById('c'), null, {renderer: 'canvas'});
chart.setOption({
  animation: false,
  backgroundColor: '#fff',
  grid: grids, xAxis: xAxes, yAxis: yAxes, series,
  graphic: {elements: graphics}
});
</script></body></html>
